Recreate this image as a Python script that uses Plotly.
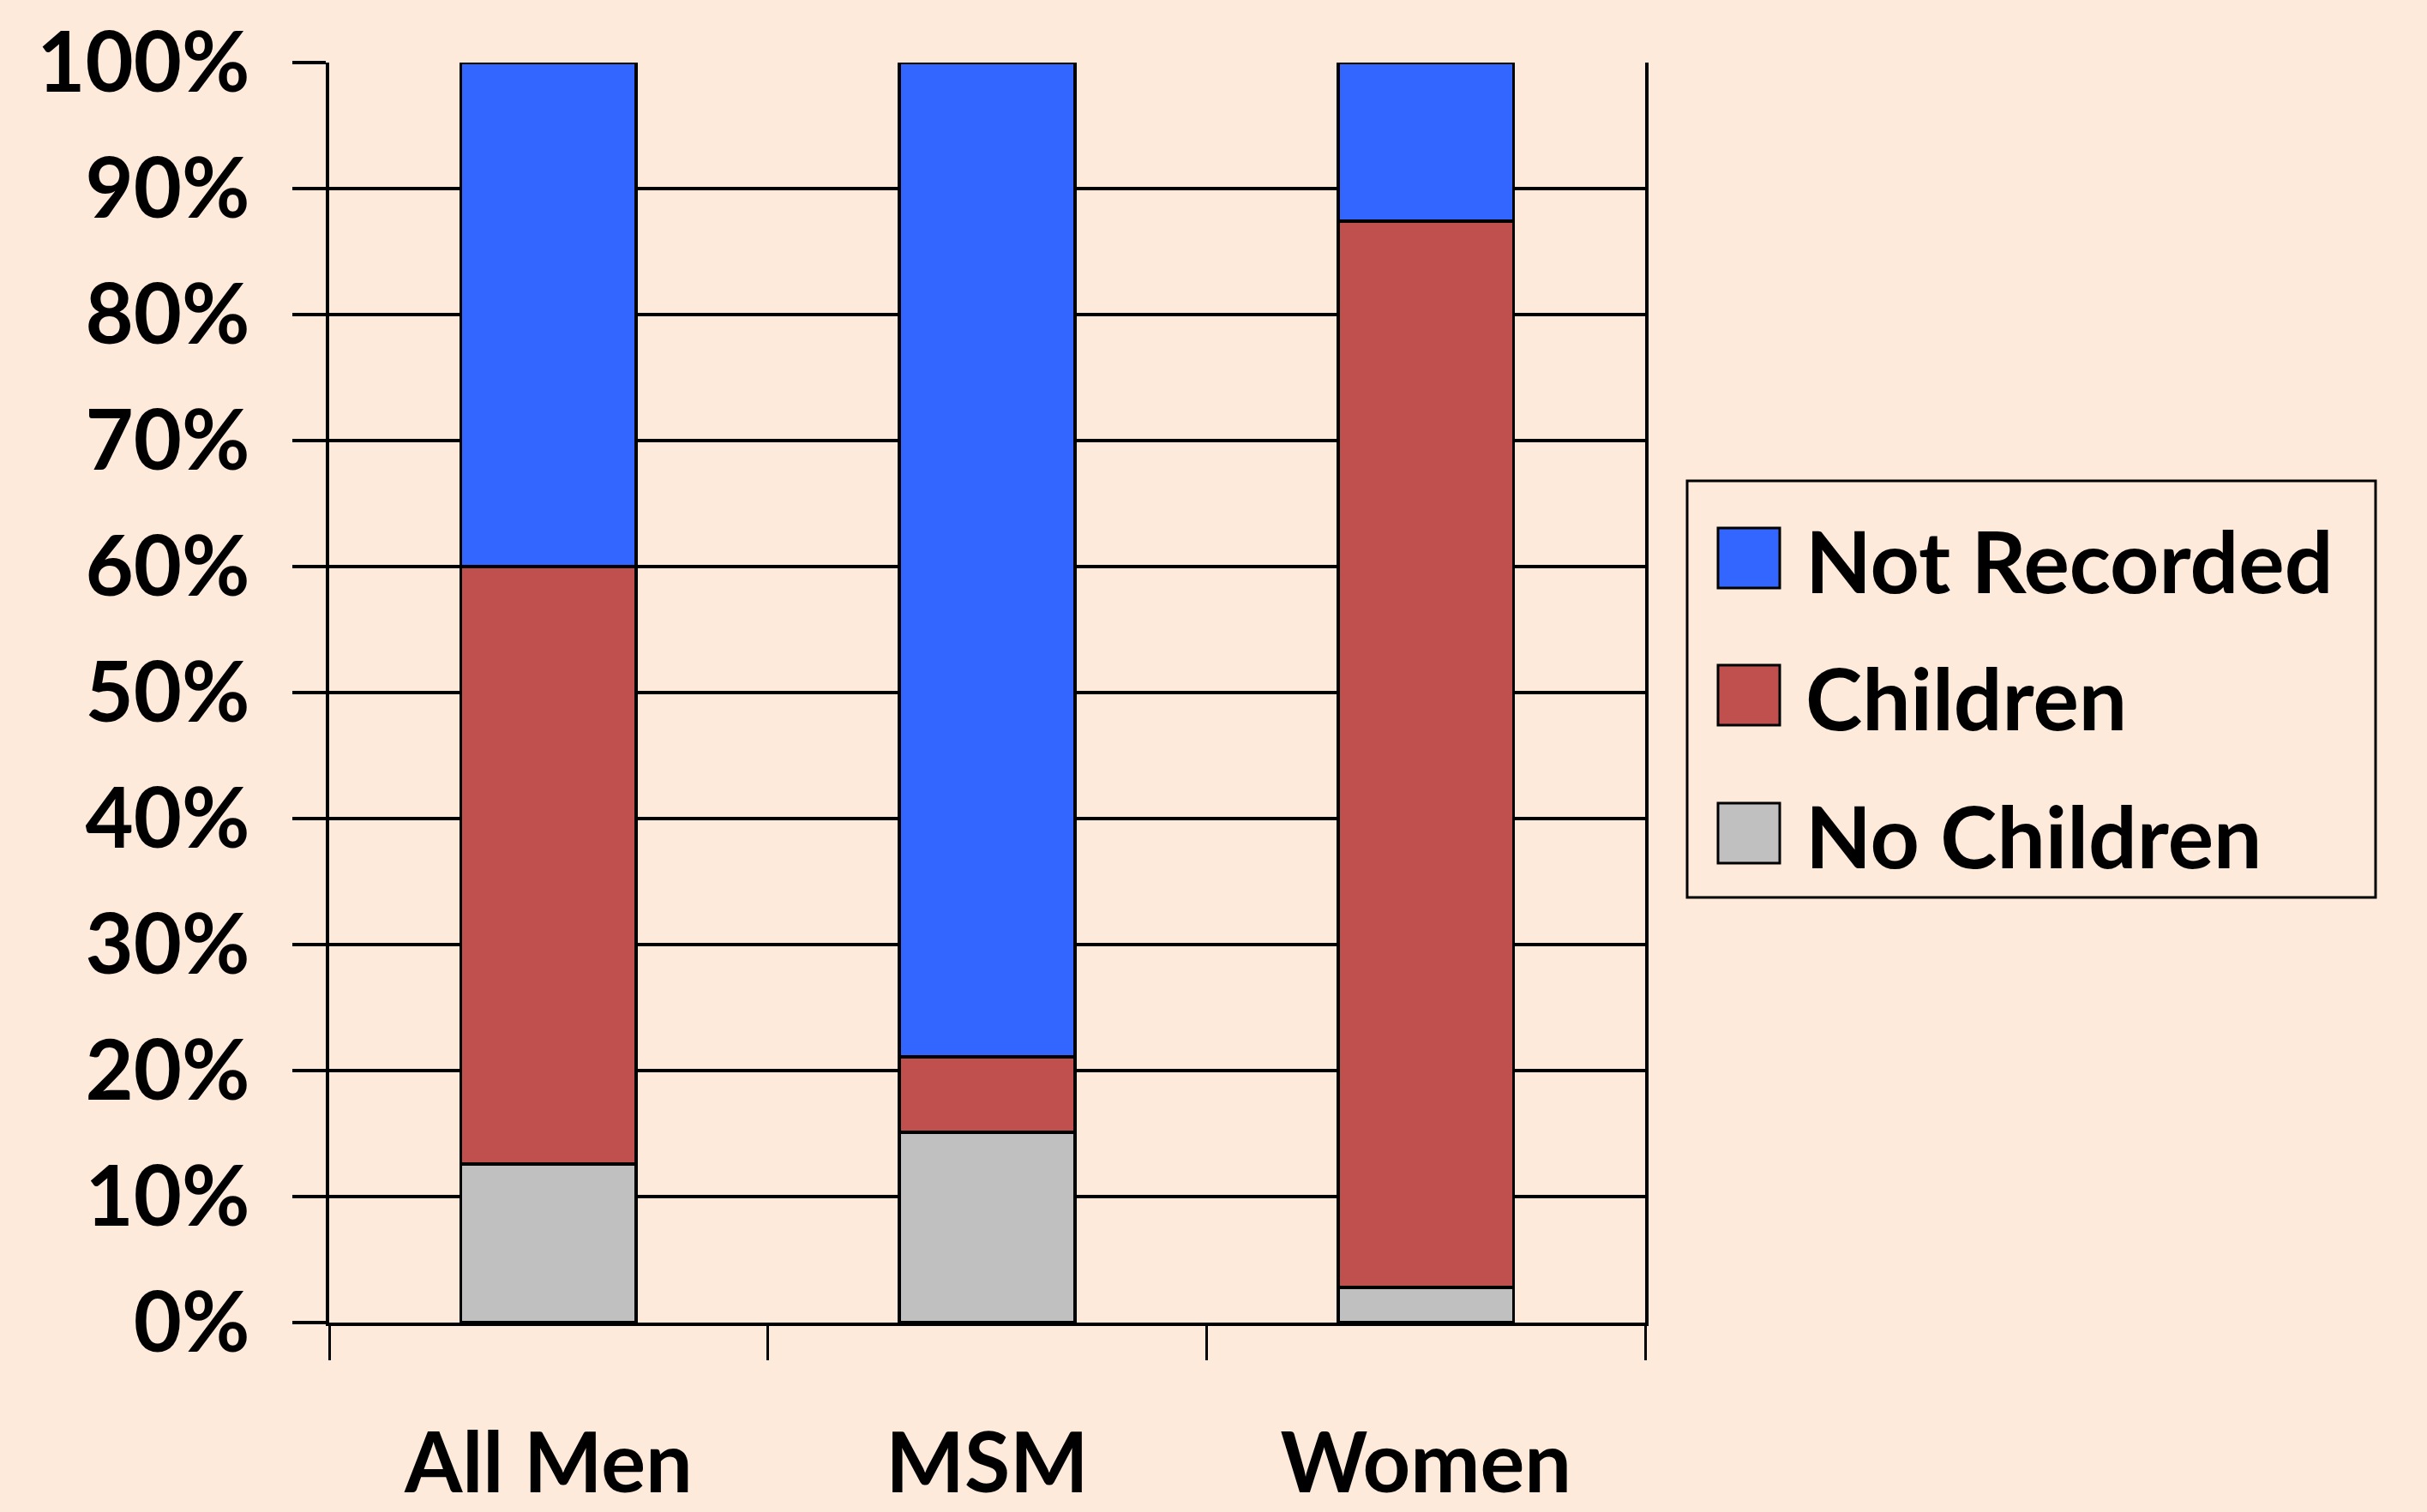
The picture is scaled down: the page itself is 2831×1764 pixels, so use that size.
import plotly.graph_objects as go

# Share of patients by parental status, per group (percent)
groups = ["All Men", "MSM", "Women"]
no_children = [12.6, 15.1, 2.8]
children = [47.4, 6.0, 84.6]
not_recorded = [40.0, 78.9, 12.6]

series_names = ["No Children", "Children", "Not Recorded"]
series_colors = ["#C0C0C0", "#C0504D", "#3366FF"]
tick_vals = [0, 10, 20, 30, 40, 50, 60, 70, 80, 90, 100]
tick_text = [f"{v}%" for v in tick_vals]

W, H = 2831, 1764
PL, PR, PT, PB = 384, 1919, 73, 1543  # plot area in pixels
BG = "#FDEADB"
FONT = "Lato"
FS = 97

fig = go.Figure()
for name, vals, color in zip(series_names, [no_children, children, not_recorded], series_colors):
    fig.add_trace(go.Bar(
        x=groups, y=vals, name=name, width=0.4,
        marker=dict(color=color, line=dict(color="black", width=3.5)),
        showlegend=False,
    ))


def px_x(p):
    return (p - PL) / (PR - PL)


def px_y(p):
    return (PB - p) / (PB - PT)


shapes = []
annotations = []

# Legend box
shapes.append(dict(type="rect", xref="paper", yref="paper",
                   x0=px_x(1968), x1=px_x(2771), y0=px_y(1047), y1=px_y(561),
                   line=dict(color="black", width=3), fillcolor=BG, layer="above"))

# Legend entries, top to bottom
legend_rows = [("Not Recorded", "#3366FF", 651), ("Children", "#C0504D", 811), ("No Children", "#C0C0C0", 972)]
for label, color, cy in legend_rows:
    shapes.append(dict(type="rect", xref="paper", yref="paper",
                       x0=px_x(2004), x1=px_x(2076), y0=px_y(cy + 35), y1=px_y(cy - 35),
                       line=dict(color="black", width=3), fillcolor=color, layer="above"))
    annotations.append(dict(xref="paper", yref="paper", x=px_x(2104), y=px_y(cy + 2),
                            xanchor="left", yanchor="middle", showarrow=False, text=label,
                            font=dict(family=FONT, size=100, color="black", weight="bold")))

fig.update_layout(
    width=W, height=H,
    margin=dict(l=PL, r=W - PR, t=PT, b=H - PB, pad=0, autoexpand=False),
    paper_bgcolor=BG, plot_bgcolor=BG,
    barmode="stack",
    shapes=shapes, annotations=annotations,
    font=dict(family=FONT, size=FS, color="black", weight="bold"),
)
fig.update_xaxes(
    type="category", tickson="boundaries", ticks="outside", ticklen=40, tickwidth=3,
    tickcolor="black", showline=True, linecolor="black", linewidth=4,
    showgrid=False, ticklabelstandoff=78, automargin=False,
    tickfont=dict(family=FONT, size=FS, color="black", weight="bold"),
)
fig.update_yaxes(
    range=[0, 100], tickvals=tick_vals, ticktext=tick_text, ticks="outside",
    ticklen=39, tickwidth=4, tickcolor="black", showline=True, mirror=True,
    linecolor="black", linewidth=4, showgrid=True, gridcolor="black", gridwidth=4,
    zeroline=False, ticklabelstandoff=30, automargin=False,
    tickfont=dict(family=FONT, size=FS, color="black", weight="bold"),
)

fig.write_html("out.html")
